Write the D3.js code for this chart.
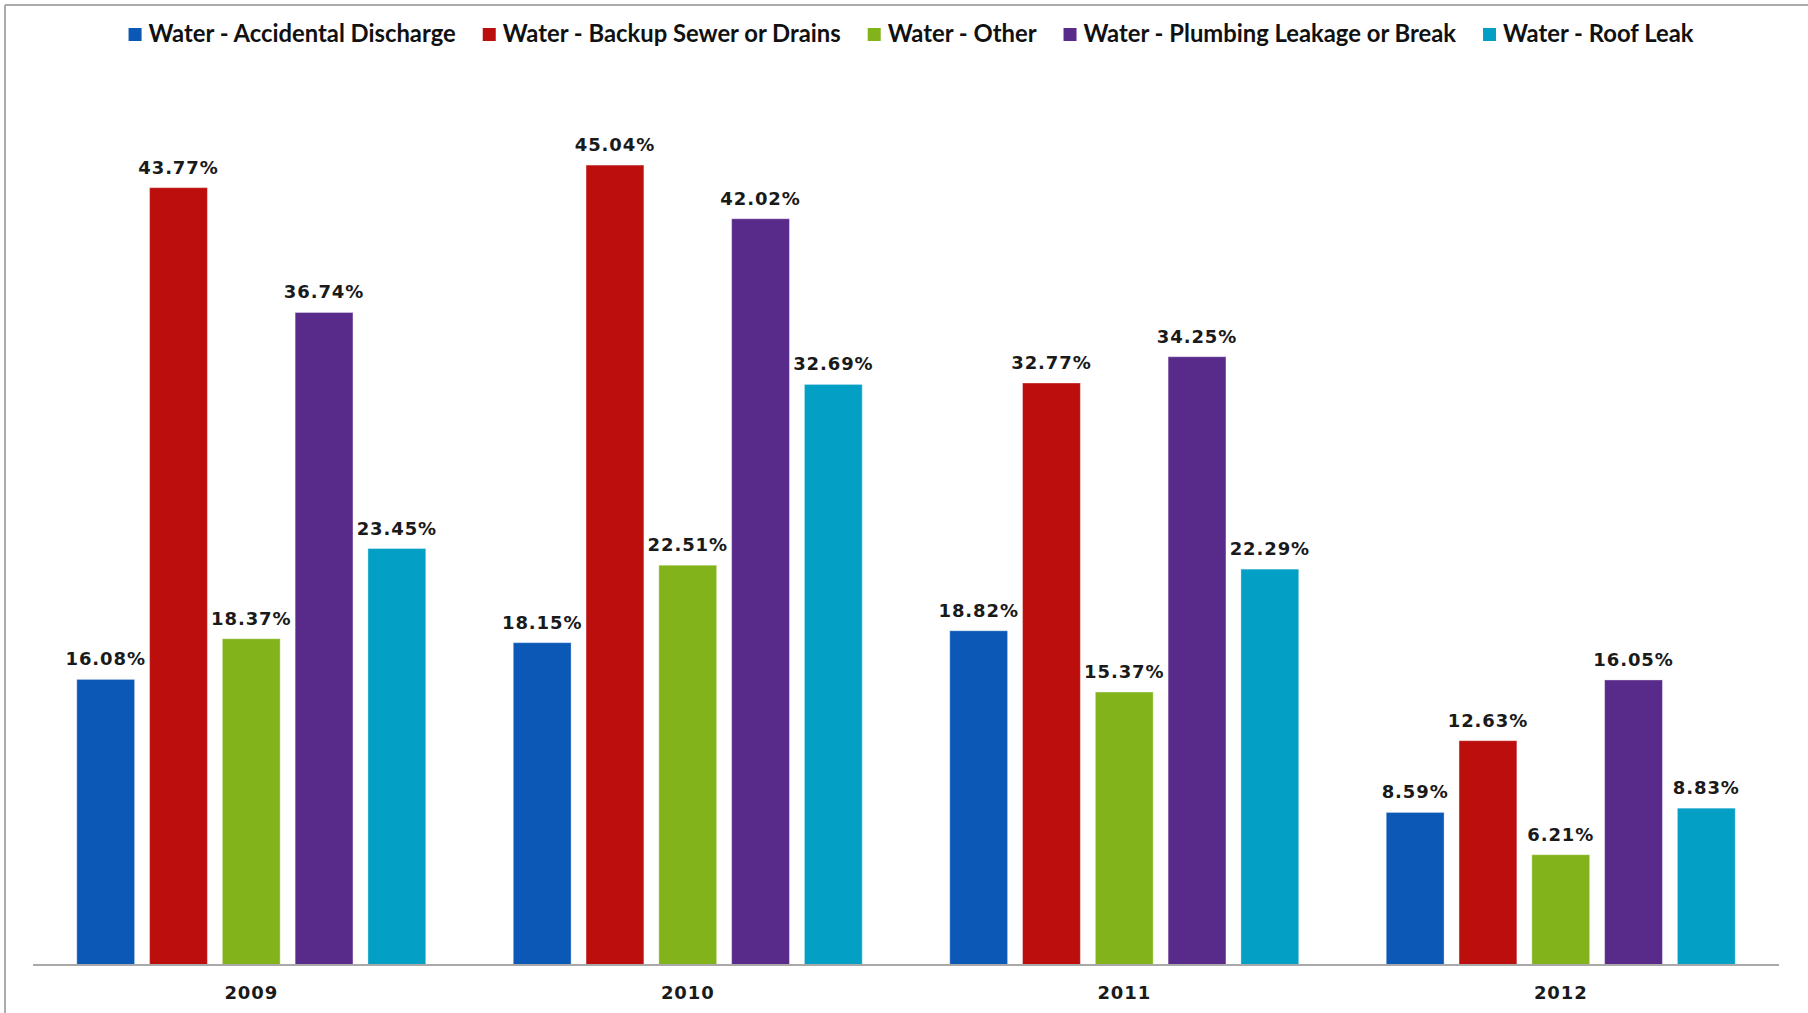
<!DOCTYPE html>
<html>
<head>
<meta charset="utf-8">
<script src="https://cdn.jsdelivr.net/npm/d3@7"></script>
<style>
  html, body { margin: 0; padding: 0; background: #fff; }
  svg { display: block; }
</style>
</head>
<body>
<svg id="chart" width="1808" height="1013"></svg>
<script>
// Water claim shares by cause, per year
const years = ["2009", "2010", "2011", "2012"];
const seriesNames = [
  "Water - Accidental Discharge",
  "Water - Backup Sewer or Drains",
  "Water - Other",
  "Water - Plumbing Leakage or Break",
  "Water - Roof Leak"
];
const seriesColors = ["#0C58B6", "#BC0E0C", "#83B31B", "#582B8A", "#049FC5"];
const accidentalDischarge = [16.08, 18.15, 18.82, 8.59];
const backupSewer        = [43.77, 45.04, 32.77, 12.63];
const waterOther         = [18.37, 22.51, 15.37, 6.21];
const plumbingLeakage    = [36.74, 42.02, 34.25, 16.05];
const roofLeak           = [23.45, 32.69, 22.29, 8.83];
const seriesValues = [accidentalDischarge, backupSewer, waterOther, plumbingLeakage, roofLeak];

const W = 1808, H = 1013;
const plot = { left: 33, right: 1779, top: 77, bottom: 965 };

const svg = d3.select("#chart");

// outer frame (top and left edges visible)
svg.append("line").attr("x1", 5).attr("y1", 5).attr("x2", W).attr("y2", 5)
  .attr("stroke", "#ababab").attr("stroke-width", 2);
svg.append("line").attr("x1", 5).attr("y1", 5).attr("x2", 5).attr("y2", H)
  .attr("stroke", "#ababab").attr("stroke-width", 2);

const x0 = d3.scaleBand().domain(years).range([plot.left, plot.right])
  .paddingInner(0.2005).paddingOuter(0.1003);
const x1 = d3.scaleBand().domain(d3.range(seriesNames.length))
  .range([0, x0.bandwidth()]).paddingInner(0.2056).paddingOuter(0);
const y = d3.scaleLinear().domain([0, 50]).range([plot.bottom, plot.top]);

const rows = [];
years.forEach((yr, i) => {
  seriesValues.forEach((vals, s) => rows.push({ year: yr, s, v: vals[i] }));
});

const bars = svg.append("g");
bars.selectAll("rect").data(rows).join("rect")
  .attr("x", d => x0(d.year) + x1(d.s))
  .attr("y", d => y(d.v))
  .attr("width", x1.bandwidth())
  .attr("height", d => y(0) - y(d.v))
  .attr("fill", d => seriesColors[d.s])
  .attr("stroke", "rgba(255,255,255,0.35)")
  .attr("stroke-width", 1);

// value labels
svg.append("g").selectAll("text").data(rows).join("text")
  .attr("x", d => x0(d.year) + x1(d.s) + x1.bandwidth() / 2)
  .attr("y", d => y(d.v) - 14)
  .attr("text-anchor", "middle")
  .attr("font-family", "DejaVu Sans")
  .attr("font-weight", "bold")
  .attr("font-size", 18)
  .attr("letter-spacing", "0.9px")
  .attr("fill", "#1a1a1a")
  .text(d => d.v.toFixed(2) + "%");

// category axis
const xAxis = d3.axisBottom(x0).tickSize(0).tickPadding(21);
const gx = svg.append("g").attr("transform", `translate(0,${plot.bottom})`).call(xAxis);
gx.select(".domain").attr("stroke", "#a9a9a9").attr("stroke-width", 2)
  .attr("d", `M${plot.left},0H${plot.right}`);
gx.selectAll("text")
  .attr("font-family", "DejaVu Sans")
  .attr("font-weight", "bold")
  .attr("font-size", 18)
  .attr("letter-spacing", "0.9px")
  .attr("fill", "#1a1a1a");

// legend
const legend = svg.append("g");
const items = legend.selectAll("g").data(seriesNames).join("g");
items.append("rect")
  .attr("width", 13).attr("height", 13).attr("y", 28)
  .attr("fill", (d, i) => seriesColors[i]);
items.append("text")
  .attr("x", 20).attr("y", 42)
  .attr("font-family", "Lato")
  .attr("font-weight", "bold")
  .attr("font-size", 23.8)
  .attr("fill", "#111")
  .text(d => d);
let cx = 0;
const gap = 27;
items.each(function () {
  const g = d3.select(this);
  g.attr("transform", `translate(${cx},0)`);
  cx += 20 + g.select("text").node().getComputedTextLength() + gap;
});
const total = cx - gap;
legend.attr("transform", `translate(${911 - total / 2},0)`);
</script>
</body>
</html>
